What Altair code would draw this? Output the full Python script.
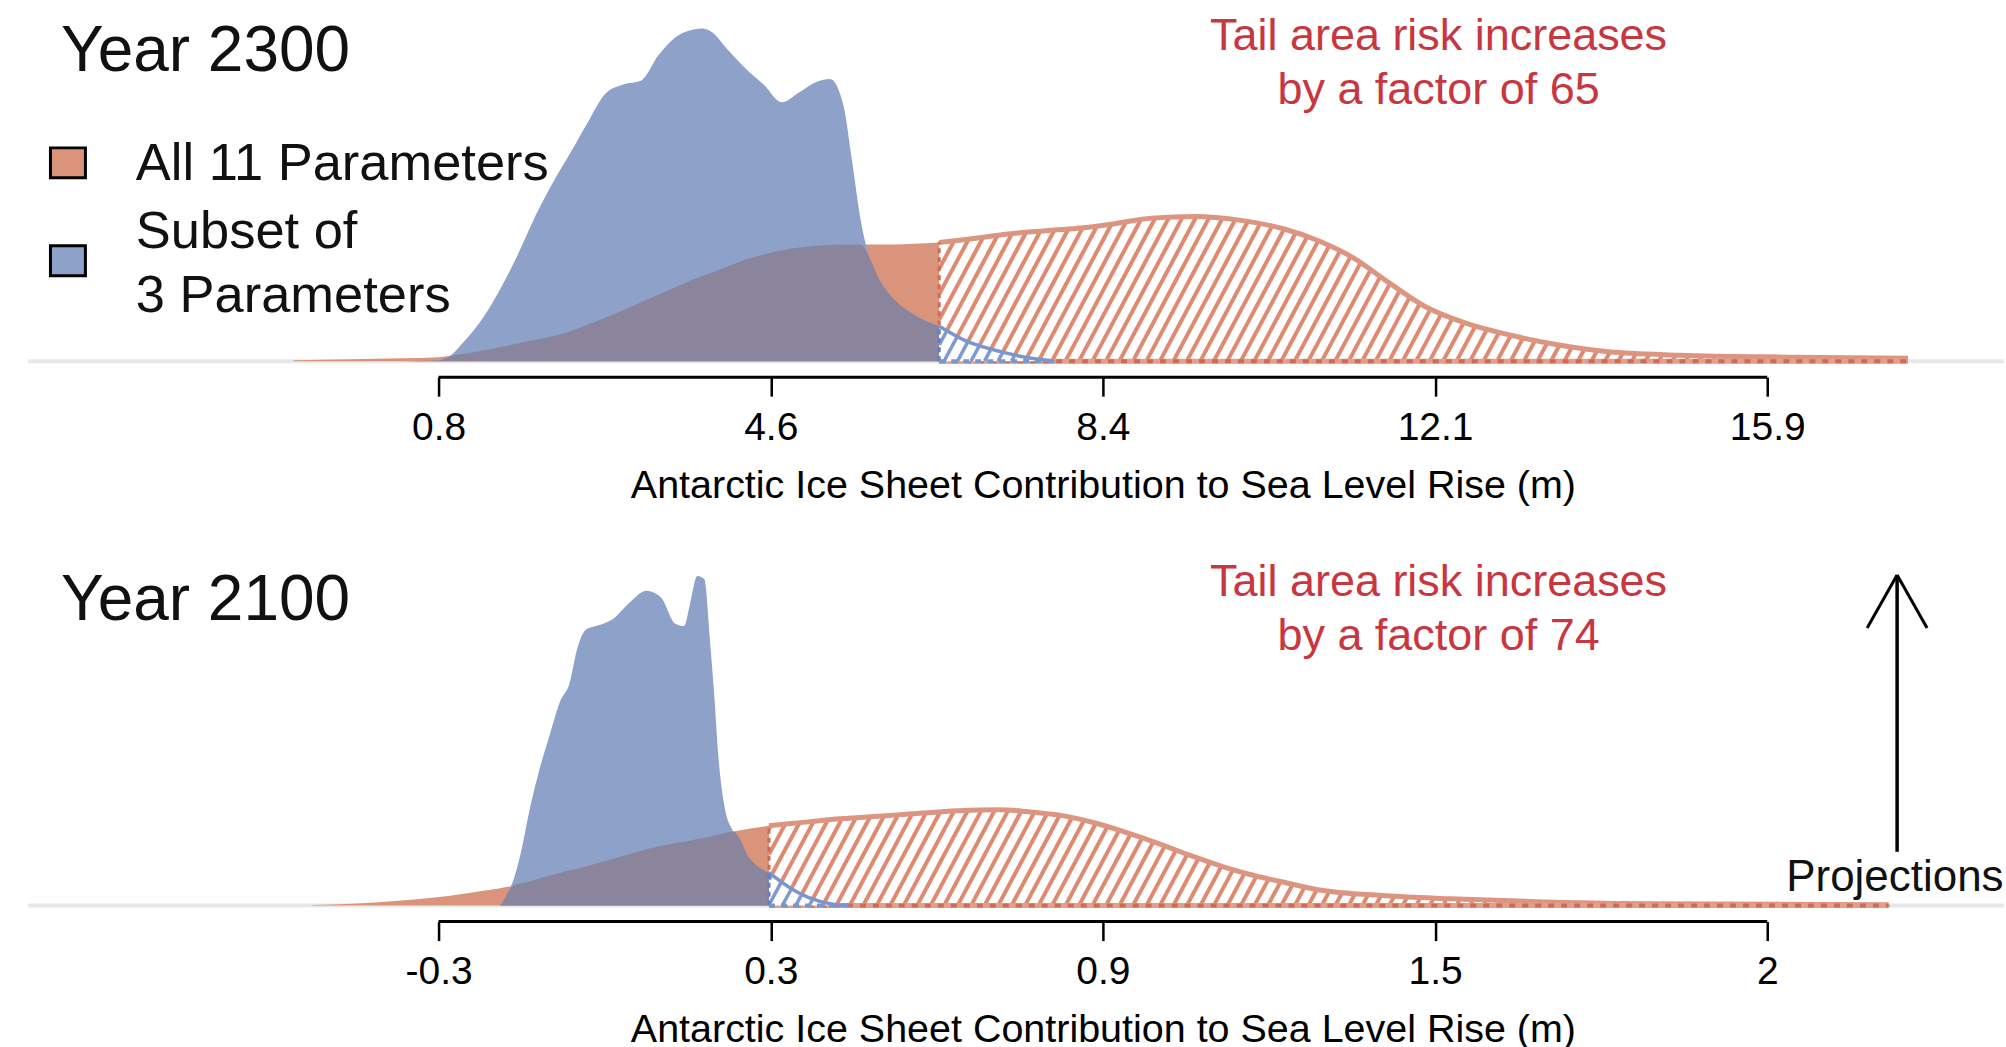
import numpy as np
import pandas as pd
import altair as alt

FONT = "Liberation Sans"
W = 2006
AX0, AX1 = 439, 1769          # pixel position of first / last tick
BASE = 16                     # gap between density baseline and axis line (px)

RED = "#d9947b"
BLUE = "#8ea2c9"
PURPLE = "#8a859c"
RED_STRIPE = "#dd8a71"
RED_EDGE = "#dc9580"
RED_DARK = "#cf6a55"
BLUE_STRIPE = "#7f9ad0"
BLUE_EDGE = "#7b96cd"
TXT_RED = "#c8363f"

# ---------------- Year 2300 ----------------
v2300 = [-0.85, -0.2, 0.4, 0.8, 0.95, 1.1, 1.3, 1.5, 1.7, 1.9, 2.1, 2.3, 2.5, 2.7, 2.9,
         3.1, 3.3, 3.5, 3.7, 3.8, 3.9, 4.1, 4.3, 4.5, 4.7, 4.9, 5.1, 5.25, 5.4, 5.5,
         5.6, 5.7, 5.8, 6.0, 6.2, 6.49, 6.8, 7.2, 7.5, 7.8, 8.1, 8.5, 8.9, 9.4, 9.9,
         10.4, 10.8, 11.2, 11.6, 12.0, 12.5, 13.0, 13.5, 14.1, 14.9, 16.2, 17.5]
all2300 = [0.003, 0.006, 0.009, 0.012, 0.016, 0.022, 0.032, 0.042, 0.053, 0.064, 0.075,
           0.090, 0.110, 0.131, 0.153, 0.177, 0.200, 0.223, 0.246, 0.256, 0.266, 0.286,
           0.306, 0.321, 0.333, 0.342, 0.347, 0.349, 0.351, 0.351, 0.351, 0.351, 0.351,
           0.351, 0.353, 0.357, 0.366, 0.380, 0.388, 0.394, 0.400, 0.414, 0.430, 0.435,
           0.424, 0.398, 0.362, 0.310, 0.236, 0.166, 0.112, 0.077, 0.050, 0.028, 0.018,
           0.012, 0.009]
sub2300 = [0, 0, 0, 0.002, 0.020, 0.062, 0.128, 0.216, 0.320, 0.436, 0.537, 0.627, 0.720,
           0.805, 0.832, 0.843, 0.920, 0.975, 0.997, 1.0, 0.990, 0.932, 0.877, 0.830,
           0.778, 0.808, 0.840, 0.848, 0.770, 0.600, 0.420, 0.310, 0.250, 0.180, 0.140,
           0.105, 0.060, 0.028, 0.010, 0, 0, 0, 0, 0, 0, 0, 0, 0, 0, 0, 0, 0, 0, 0, 0, 0, 0]
ticks2300 = [0.8, 4.575, 8.35, 12.125, 15.9]
labels2300 = ["0.8", "4.6", "8.4", "12.1", "15.9"]
tail2300 = 6.49

# ---------------- Year 2100 ----------------
v2100 = [-0.48, -0.41, -0.33, -0.24, -0.18, -0.155, -0.14, -0.13, -0.12, -0.10, -0.085,
         -0.068, -0.05, -0.033, -0.02, -0.005, 0.02, 0.04, 0.07, 0.10, 0.125, 0.15, 0.165,
         0.175, 0.188, 0.20, 0.21, 0.217, 0.225, 0.235, 0.25, 0.28, 0.312, 0.35, 0.38,
         0.42, 0.45, 0.54, 0.64, 0.71, 0.76, 0.82, 0.88, 0.93, 0.99, 1.04, 1.10, 1.15,
         1.21, 1.26, 1.38, 1.49, 1.64, 1.83, 2.25]
all2100 = [0.002, 0.006, 0.015, 0.030, 0.046, 0.052, 0.057, 0.061, 0.066, 0.075, 0.082,
           0.091, 0.099, 0.107, 0.112, 0.119, 0.131, 0.141, 0.156, 0.171, 0.181, 0.190,
           0.194, 0.197, 0.202, 0.206, 0.210, 0.213, 0.216, 0.220, 0.225, 0.234, 0.242,
           0.249, 0.254, 0.261, 0.265, 0.276, 0.288, 0.291, 0.285, 0.273, 0.249, 0.222,
           0.186, 0.153, 0.117, 0.092, 0.068, 0.049, 0.030, 0.021, 0.012, 0.006, 0.003]
sub2100 = [0, 0, 0, 0, 0, 0, 0.04, 0.08, 0.142, 0.31, 0.415, 0.515, 0.618, 0.676, 0.779,
           0.837, 0.852, 0.867, 0.918, 0.955, 0.935, 0.855, 0.848, 0.912, 1.0, 0.991,
           0.800, 0.645, 0.440, 0.300, 0.225, 0.140, 0.100, 0.052, 0.025, 0.005, 0,
           0, 0, 0, 0, 0, 0, 0, 0, 0, 0, 0, 0, 0, 0, 0, 0, 0, 0]
ticks2100 = [-0.26, 0.315, 0.89, 1.465, 2.04]
labels2100 = ["-0.3", "0.3", "0.9", "1.5", "2"]
tail2100 = 0.312

AXIS_TITLE = "Antarctic Ice Sheet Contribution to Sea Level Rise (m)"
TAIL_LINE1 = "Tail area risk increases"


def hatch(v, dens, thr, vend, dmin, sx, sy, period=13.5, ang=62.0):
    k = np.tan(np.radians(ang))
    xs = (np.asarray(v, float) - dmin) * sx
    hs = np.asarray(dens, float) * sy
    x_thr = (thr - dmin) * sx
    x_end = (vend - dmin) * sx
    fine = np.arange(x_thr, x_end + 0.25, 0.25)
    hf = np.interp(fine, xs, hs)
    hmax = hf.max()
    x0 = np.floor((x_thr - hmax / k) / period) * period
    rows = []
    while x0 < x_end:
        s0 = max(x0, x_thr)
        m = fine >= s0
        fx, fh = fine[m], hf[m]
        if len(fx) > 1:
            lh = (fx - x0) * k
            if lh[0] < fh[0] - 0.5:
                hit = np.nonzero(lh >= fh)[0]
                j = hit[0] if len(hit) else len(fx) - 1
                rows.append(dict(v=dmin + s0 / sx, y=(s0 - x0) * k / sy,
                                 v2=dmin + fx[j] / sx, y2=min(lh[j], fh[j]) / sy))
        x0 += period
    return pd.DataFrame(rows)


def one_row():
    return pd.DataFrame({"a": [0]})


def txt(text, x, y, size, color="#111111", align="left"):
    return alt.Chart(one_row()).mark_text(
        text=text, font=FONT, fontSize=size, color=color, align=align,
        baseline="alphabetic").encode(x=alt.value(x), y=alt.value(y))


def panel(v, red, blue, thr, ticks, labels, H, sy, year, factor_line, year_y,
          tail_y, legend=False, arrow=False):
    sx = (AX1 - AX0) / (ticks[-1] - ticks[0])
    dmin = ticks[0] - AX0 / sx
    dmax = dmin + W / sx
    ydom = [-BASE / sy, (H - BASE) / sy]
    df = pd.DataFrame({"v": v, "red": red, "blue": blue})
    df["zero"] = 0.0

    expr = "'" + labels[-1] + "'"
    for t, l in reversed(list(zip(ticks[:-1], labels[:-1]))):
        expr = f"abs(datum.value - ({t})) < 1e-6 ? '{l}' : " + expr

    axis = alt.Axis(values=ticks, labelExpr=expr, domain=False, grid=False,
                    tickSize=19, tickWidth=2.5, tickColor="black",
                    labelFont=FONT, labelFontSize=39, labelColor="black",
                    labelPadding=12, labelFlush=False, labelOverlap=False,
                    title=AXIS_TITLE, titleFont=FONT, titleFontSize=39.5,
                    titleFontWeight="normal", titleColor="black",
                    titleX=(AX0 + AX1) / 2, titleY=120, titleAlign="center",
                    titleBaseline="alphabetic")
    xs = alt.Scale(domain=[dmin, dmax], nice=False, zero=False)
    ys = alt.Scale(domain=ydom, nice=False, zero=False)

    def X(f):
        return alt.X(f, type="quantitative", scale=xs, axis=axis)

    def Y(f):
        return alt.Y(f, type="quantitative", scale=ys, axis=None)

    base = alt.Chart(df)
    L = []
    # light grey baseline
    L.append(alt.Chart(pd.DataFrame({"y": [0.0]})).mark_rule(
        color="#e8e8e8", strokeWidth=4).encode(x=alt.value(28), x2=alt.value(W), y=Y("y")))

    solid = base.transform_filter(alt.datum.v <= thr)
    L.append(solid.mark_area(color=RED, interpolate="monotone").encode(
        x=X("v"), y=Y("red"), y2="zero:Q"))
    L.append(solid.mark_area(color=BLUE, interpolate="monotone").encode(
        x=X("v"), y=Y("blue"), y2="zero:Q"))
    L.append(solid.transform_calculate(ov="min(datum.red, datum.blue)").mark_area(
        color=PURPLE, interpolate="monotone").encode(x=X("v"), y=Y("ov:Q"), y2="zero:Q"))

    # hatched tail of the full-parameter distribution
    vend_r = v[-1]
    hr = hatch(v, red, thr, vend_r, dmin, sx, sy)
    L.append(alt.Chart(hr).mark_rule(color=RED_STRIPE, strokeWidth=4).encode(
        x=X("v"), x2="v2:Q", y=Y("y"), y2="y2:Q"))
    L.append(base.transform_filter(alt.datum.v >= thr).mark_line(
        color=RED_EDGE, strokeWidth=5, interpolate="monotone").encode(x=X("v"), y=Y("red")))
    r_thr = red[v.index(thr)]
    L.append(alt.Chart(pd.DataFrame({"v": [thr], "y": [0.0], "y2": [r_thr]})).mark_rule(
        color=RED_DARK, strokeWidth=3, strokeDash=[5, 4]).encode(x=X("v"), y=Y("y"), y2="y2:Q"))
    bot = pd.DataFrame({"v": [thr], "v2": [vend_r], "y": [0.0]})
    L.append(alt.Chart(bot).mark_rule(color="#e2a08b", strokeWidth=5).encode(
        x=X("v"), x2="v2:Q", y=Y("y")))
    L.append(alt.Chart(bot).mark_rule(color=RED_DARK, strokeWidth=4, strokeDash=[6, 7]).encode(
        x=X("v"), x2="v2:Q", y=Y("y")))

    # hatched tail of the subset distribution
    i_thr = v.index(thr)
    j = i_thr
    while j < len(v) - 1 and blue[j] > 0:
        j += 1
    vend_b = v[j]
    tailb = base.transform_filter((alt.datum.v >= thr) & (alt.datum.v <= vend_b))
    L.append(tailb.mark_area(color="white", interpolate="monotone").encode(
        x=X("v"), y=Y("blue"), y2="zero:Q"))
    hb = hatch(v, blue, thr, vend_b, dmin, sx, sy)
    if len(hb):
        L.append(alt.Chart(hb).mark_rule(color=BLUE_STRIPE, strokeWidth=3.5).encode(
            x=X("v"), x2="v2:Q", y=Y("y"), y2="y2:Q"))
    L.append(tailb.mark_line(color=BLUE_EDGE, strokeWidth=3.5, interpolate="monotone").encode(
        x=X("v"), y=Y("blue")))
    L.append(alt.Chart(pd.DataFrame({"v": [thr], "y": [0.0], "y2": [blue[i_thr]]})).mark_rule(
        color="#5f7fc0", strokeWidth=3, strokeDash=[5, 4]).encode(x=X("v"), y=Y("y"), y2="y2:Q"))
    L.append(alt.Chart(pd.DataFrame({"v": [thr], "v2": [vend_b], "y": [0.0]})).mark_rule(
        color=BLUE_EDGE, strokeWidth=4, strokeDash=[6, 6]).encode(x=X("v"), x2="v2:Q", y=Y("y")))

    # R-style axis line from first to last tick
    L.append(alt.Chart(pd.DataFrame({"v": [ticks[0]], "v2": [ticks[-1]]})).mark_rule(
        color="black", strokeWidth=3).encode(x=X("v"), x2="v2:Q", y=alt.value(H)))

    # annotations
    L.append(txt(year, 61, year_y, 64))
    L.append(txt(TAIL_LINE1, 1440, tail_y, 45, TXT_RED, "center"))
    L.append(txt(factor_line, 1440, tail_y + 54, 45, TXT_RED, "center"))

    if legend:
        L.append(alt.Chart(one_row()).mark_rect(color=RED, stroke="black", strokeWidth=3).encode(
            x=alt.value(50.5), x2=alt.value(85.5), y=alt.value(147.5), y2=alt.value(177.5)))
        L.append(alt.Chart(one_row()).mark_rect(color=BLUE, stroke="black", strokeWidth=3).encode(
            x=alt.value(50.5), x2=alt.value(85.5), y=alt.value(245.5), y2=alt.value(275.5)))
        L.append(txt("All 11 Parameters", 136, 180, 52.5))
        L.append(txt("Subset of", 136, 248, 52.5))
        L.append(txt("3 Parameters", 136, 312, 52.5))

    if arrow:
        ax, top, bottom = 1899, 52, 329
        L.append(alt.Chart(one_row()).mark_rule(color="black", strokeWidth=3.5).encode(
            x=alt.value(ax), y=alt.value(top), y2=alt.value(bottom)))
        L.append(alt.Chart(one_row()).mark_rule(color="black", strokeWidth=3).encode(
            x=alt.value(ax), x2=alt.value(ax - 30), y=alt.value(top), y2=alt.value(top + 53)))
        L.append(alt.Chart(one_row()).mark_rule(color="black", strokeWidth=3).encode(
            x=alt.value(ax), x2=alt.value(ax + 30), y=alt.value(top), y2=alt.value(top + 53)))
        L.append(alt.Chart(one_row()).mark_text(
            text="Projections", font=FONT, fontSize=44, color="#111111", align="left",
            baseline="alphabetic", clip=True).encode(x=alt.value(1788), y=alt.value(368)))

    return alt.layer(*L).properties(width=W, height=H)


top = panel(v2300, all2300, sub2300, tail2300, ticks2300, labels2300, 377, 333.0,
            "Year 2300", "by a factor of 65", 71, 50, legend=True)
bottom = panel(v2100, all2100, sub2100, tail2100, ticks2100, labels2100, 399, 330.0,
               "Year 2100", "by a factor of 74", 97, 73, arrow=True)

chart = alt.vconcat(top, bottom, spacing=18).properties(
    padding=0, background="white").configure(
    font=FONT, view=alt.ViewConfig(stroke=None))

chart.save("out.html", embed_options={"renderer": "svg", "actions": False})
